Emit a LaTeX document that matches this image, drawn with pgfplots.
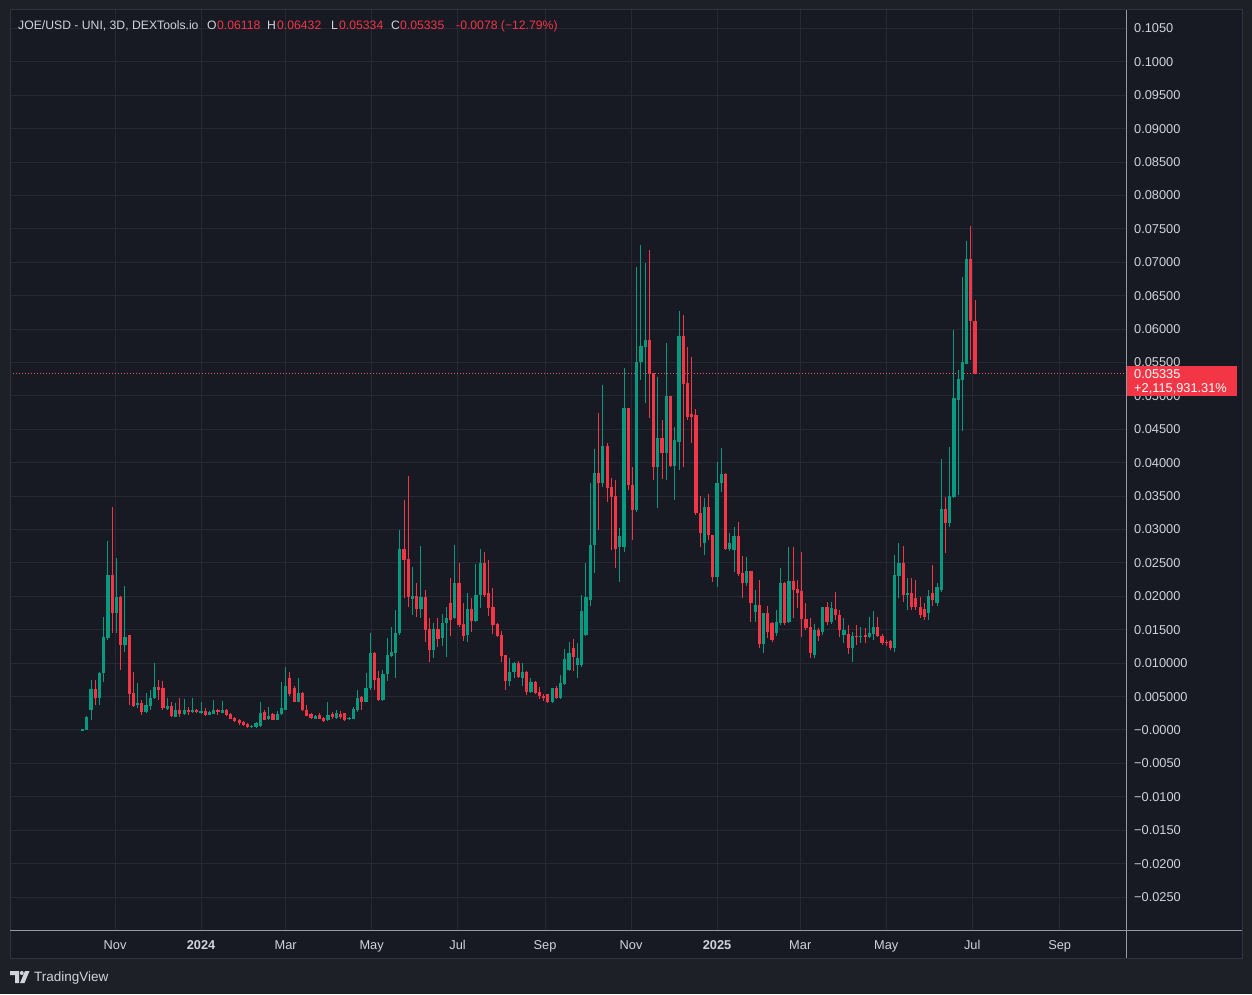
\documentclass[border=0pt]{standalone}
\usepackage{pgfplots}
\pgfplotsset{compat=1.18}
\usepackage{pgfplotstable}
\usepackage{fontspec}
\setmainfont{Liberation Sans}
\definecolor{outerbg}{RGB}{30,32,40}
\definecolor{panebg}{RGB}{23,25,35}
\definecolor{gridc}{RGB}{38,41,53}
\definecolor{framec}{RGB}{48,51,62}
\definecolor{sepc}{RGB}{150,153,161}
\definecolor{txt}{RGB}{209,212,220}
\definecolor{upc}{RGB}{8,153,129}
\definecolor{downc}{RGB}{242,54,69}

\pgfplotstableread{
k o h l c
0 0.0000 0.0002 0.0000 0.0001
1 0.0001 0.0021 0.0000 0.0019
2 0.0030 0.0075 0.0015 0.0061
3 0.0061 0.0075 0.0037 0.0049
4 0.0049 0.0087 0.0037 0.0085
5 0.0085 0.0169 0.0072 0.0139
6 0.0138 0.0283 0.0135 0.0231
7 0.0231 0.0334 0.0145 0.0175
8 0.0175 0.0257 0.0145 0.0199
9 0.0199 0.0200 0.0090 0.0127
10 0.0127 0.0216 0.0117 0.0139
11 0.0142 0.0142 0.0037 0.0055
12 0.0055 0.0087 0.0034 0.0037
13 0.0039 0.0070 0.0033 0.0040
14 0.0040 0.0045 0.0022 0.0027
15 0.0027 0.0055 0.0025 0.0037
16 0.0036 0.0060 0.0030 0.0048
17 0.0048 0.0100 0.0046 0.0064
18 0.0064 0.0075 0.0045 0.0061
19 0.0063 0.0073 0.0030 0.0034
20 0.0032 0.0048 0.0030 0.0035
21 0.0036 0.0042 0.0019 0.0021
22 0.0020 0.0040 0.0019 0.0030
23 0.0030 0.0048 0.0019 0.0024
24 0.0024 0.0046 0.0022 0.0029
25 0.0030 0.0034 0.0023 0.0028
26 0.0028 0.0048 0.0026 0.0029
27 0.0030 0.0031 0.0025 0.0027
28 0.0026 0.0042 0.0024 0.0028
29 0.0028 0.0033 0.0021 0.0023
30 0.0023 0.0028 0.0022 0.0027
31 0.0025 0.0045 0.0025 0.0029
32 0.0030 0.0032 0.0023 0.0027
33 0.0026 0.0043 0.0025 0.0029
34 0.0030 0.0031 0.0021 0.0023
35 0.0023 0.0025 0.0016 0.0017
36 0.0018 0.0020 0.0012 0.0014
37 0.0015 0.0016 0.0007 0.0011
38 0.0012 0.0013 0.0006 0.0008
39 0.0009 0.0010 0.0003 0.0005
40 0.0005 0.0008 0.0003 0.0006
41 0.0005 0.0012 0.0003 0.0010
42 0.0007 0.0042 0.0005 0.0025
43 0.0026 0.0030 0.0015 0.0016
44 0.0017 0.0034 0.0015 0.0020
45 0.0024 0.0026 0.0015 0.0016
46 0.0016 0.0028 0.0015 0.0024
47 0.0024 0.0072 0.0023 0.0033
48 0.0030 0.0094 0.0030 0.0066
49 0.0078 0.0087 0.0051 0.0055
50 0.0063 0.0066 0.0042 0.0043
51 0.0043 0.0078 0.0042 0.0055
52 0.0055 0.0057 0.0029 0.0031
53 0.0030 0.0037 0.0021 0.0022
54 0.0023 0.0025 0.0016 0.0018
55 0.0017 0.0023 0.0016 0.0021
56 0.0022 0.0025 0.0016 0.0017
57 0.0018 0.0020 0.0012 0.0014
58 0.0015 0.0042 0.0013 0.0022
59 0.0023 0.0027 0.0017 0.0020
60 0.0019 0.0030 0.0017 0.0025
61 0.0024 0.0029 0.0016 0.0020
62 0.0025 0.0026 0.0014 0.0016
63 0.0017 0.0020 0.0015 0.0018
64 0.0017 0.0034 0.0016 0.0031
65 0.0030 0.0060 0.0027 0.0048
66 0.0049 0.0051 0.0030 0.0043
67 0.0043 0.0085 0.0042 0.0063
68 0.0063 0.0145 0.0060 0.0115
69 0.0115 0.0117 0.0060 0.0075
70 0.0078 0.0088 0.0044 0.0045
71 0.0046 0.0090 0.0043 0.0084
72 0.0084 0.0138 0.0073 0.0112
73 0.0111 0.0154 0.0109 0.0117
74 0.0115 0.0180 0.0078 0.0145
75 0.0145 0.0300 0.0142 0.0270
76 0.0270 0.0344 0.0198 0.0255
77 0.0256 0.0380 0.0184 0.0199
78 0.0197 0.0244 0.0172 0.0200
79 0.0200 0.0220 0.0169 0.0181
80 0.0181 0.0275 0.0168 0.0199
81 0.0199 0.0210 0.0132 0.0150
82 0.0151 0.0168 0.0102 0.0120
83 0.0120 0.0160 0.0108 0.0151
84 0.0151 0.0168 0.0124 0.0136
85 0.0138 0.0173 0.0126 0.0160
86 0.0160 0.0184 0.0110 0.0168
87 0.0190 0.0228 0.0140 0.0165
88 0.0168 0.0277 0.0166 0.0219
89 0.0219 0.0250 0.0154 0.0157
90 0.0158 0.0190 0.0133 0.0141
91 0.0142 0.0205 0.0132 0.0181
92 0.0181 0.0198 0.0147 0.0163
93 0.0163 0.0249 0.0162 0.0202
94 0.0202 0.0271 0.0183 0.0250
95 0.0250 0.0267 0.0199 0.0202
96 0.0205 0.0255 0.0171 0.0183
97 0.0184 0.0213 0.0144 0.0157
98 0.0158 0.0160 0.0139 0.0141
99 0.0142 0.0148 0.0102 0.0111
100 0.0112 0.0112 0.0060 0.0073
101 0.0073 0.0108 0.0066 0.0087
102 0.0087 0.0102 0.0078 0.0100
103 0.0100 0.0103 0.0078 0.0080
104 0.0078 0.0100 0.0066 0.0087
105 0.0087 0.0088 0.0052 0.0058
106 0.0057 0.0078 0.0055 0.0072
107 0.0072 0.0074 0.0054 0.0056
108 0.0057 0.0064 0.0046 0.0052
109 0.0051 0.0054 0.0043 0.0048
110 0.0053 0.0054 0.0040 0.0042
111 0.0042 0.0063 0.0040 0.0063
112 0.0063 0.0066 0.0046 0.0048
113 0.0048 0.0082 0.0047 0.0070
114 0.0069 0.0121 0.0067 0.0106
115 0.0090 0.0132 0.0088 0.0115
116 0.0123 0.0136 0.0088 0.0109
117 0.0097 0.0130 0.0078 0.0108
118 0.0097 0.0202 0.0094 0.0177
119 0.0142 0.0250 0.0140 0.0198
120 0.0195 0.0370 0.0185 0.0277
121 0.0277 0.0421 0.0235 0.0385
122 0.0385 0.0475 0.0300 0.0370
123 0.0370 0.0516 0.0364 0.0424
124 0.0424 0.0430 0.0341 0.0362
125 0.0364 0.0377 0.0270 0.0349
126 0.0350 0.0374 0.0243 0.0272
127 0.0274 0.0302 0.0222 0.0290
128 0.0274 0.0542 0.0266 0.0481
129 0.0481 0.0481 0.0359 0.0367
130 0.0367 0.0394 0.0284 0.0329
131 0.0329 0.0693 0.0326 0.0551
132 0.0551 0.0726 0.0524 0.0575
133 0.0573 0.0699 0.0490 0.0584
134 0.0584 0.0719 0.0467 0.0534
135 0.0534 0.0534 0.0374 0.0394
136 0.0394 0.0528 0.0332 0.0437
137 0.0437 0.0464 0.0376 0.0415
138 0.0415 0.0579 0.0374 0.0499
139 0.0499 0.0499 0.0393 0.0395
140 0.0395 0.0454 0.0344 0.0433
141 0.0431 0.0627 0.0389 0.0590
142 0.0590 0.0621 0.0394 0.0519
143 0.0519 0.0573 0.0464 0.0469
144 0.0473 0.0558 0.0430 0.0469
145 0.0471 0.0481 0.0322 0.0325
146 0.0325 0.0350 0.0274 0.0295
147 0.0280 0.0347 0.0262 0.0334
148 0.0334 0.0353 0.0284 0.0292
149 0.0292 0.0292 0.0222 0.0229
150 0.0229 0.0401 0.0214 0.0370
151 0.0370 0.0422 0.0356 0.0383
152 0.0383 0.0385 0.0270 0.0272
153 0.0271 0.0295 0.0268 0.0280
154 0.0270 0.0304 0.0237 0.0290
155 0.0290 0.0311 0.0230 0.0234
156 0.0234 0.0260 0.0197 0.0220
157 0.0220 0.0259 0.0215 0.0237
158 0.0237 0.0237 0.0162 0.0191
159 0.0177 0.0210 0.0161 0.0186
160 0.0186 0.0224 0.0123 0.0129
161 0.0129 0.0175 0.0115 0.0175
162 0.0175 0.0186 0.0138 0.0147
163 0.0160 0.0162 0.0132 0.0135
164 0.0145 0.0180 0.0140 0.0162
165 0.0160 0.0243 0.0157 0.0219
166 0.0219 0.0222 0.0157 0.0160
167 0.0162 0.0274 0.0160 0.0222
168 0.0222 0.0274 0.0168 0.0210
169 0.0211 0.0225 0.0183 0.0205
170 0.0207 0.0266 0.0139 0.0166
171 0.0166 0.0190 0.0150 0.0153
172 0.0154 0.0168 0.0108 0.0115
173 0.0112 0.0158 0.0108 0.0150
174 0.0150 0.0152 0.0133 0.0141
175 0.0147 0.0184 0.0142 0.0183
176 0.0183 0.0192 0.0157 0.0162
177 0.0162 0.0192 0.0159 0.0182
178 0.0181 0.0206 0.0165 0.0172
179 0.0172 0.0180 0.0139 0.0150
180 0.0142 0.0168 0.0130 0.0150
181 0.0144 0.0157 0.0114 0.0123
182 0.0123 0.0147 0.0102 0.0141
183 0.0141 0.0157 0.0127 0.0139
184 0.0139 0.0154 0.0130 0.0141
185 0.0142 0.0153 0.0130 0.0139
186 0.0139 0.0169 0.0138 0.0145
187 0.0144 0.0178 0.0135 0.0154
188 0.0154 0.0169 0.0139 0.0141
189 0.0141 0.0143 0.0127 0.0130
190 0.0132 0.0134 0.0126 0.0130
191 0.0133 0.0135 0.0120 0.0123
192 0.0123 0.0262 0.0117 0.0231
193 0.0231 0.0280 0.0197 0.0249
194 0.0249 0.0275 0.0192 0.0202
195 0.0202 0.0227 0.0180 0.0205
196 0.0205 0.0228 0.0180 0.0184
197 0.0197 0.0225 0.0180 0.0184
198 0.0184 0.0199 0.0168 0.0172
199 0.0180 0.0190 0.0165 0.0170
200 0.0175 0.0210 0.0165 0.0200
201 0.0205 0.0247 0.0185 0.0195
202 0.0190 0.0220 0.0185 0.0213
203 0.0210 0.0406 0.0207 0.0330
204 0.0330 0.0349 0.0265 0.0310
205 0.0310 0.0424 0.0304 0.0350
206 0.0349 0.0599 0.0347 0.0496
207 0.0494 0.0539 0.0352 0.0525
208 0.0525 0.0678 0.0448 0.0551
209 0.0549 0.0732 0.0549 0.0705
210 0.0705 0.0754 0.0554 0.0612
211 0.06118 0.06432 0.05334 0.05335
}\candles

\begin{document}
\begin{tikzpicture}
\fill[outerbg] (0pt,0pt) rectangle (1252pt,994pt);
\fill[panebg] (10pt,36pt) rectangle (1242pt,984pt);
\begin{axis}[
  at={(10pt,64pt)}, anchor=south west,
  scale only axis, width=1116pt, height=920pt,
  xmin=-135.5, xmax=656, ymin=-0.02994, ymax=0.10778,
  axis line style={draw=none},
  major tick length=0pt,
  grid=major, major grid style={draw=gridc, line width=1pt},
  xtick={-61,0,60,121,182,244,305,366,425,486,547,609},
  xticklabels={Nov,\textbf{2024},Mar,May,Jul,Sep,Nov,\textbf{2025},Mar,May,Jul,Sep},
  ytick={-0.025,-0.02,-0.015,-0.01,-0.005,0,0.005,0.01,0.015,0.02,0.025,0.03,0.035,0.04,0.045,0.05,0.055,0.06,0.065,0.07,0.075,0.08,0.085,0.09,0.095,0.1,0.105},
  yticklabels={−0.0250,−0.0200,−0.0150,−0.0100,−0.0050,−0.0000,0.005000,0.010000,0.01500,0.02000,0.02500,0.03000,0.03500,0.04000,0.04500,0.05000,0.05500,0.06000,0.06500,0.07000,0.07500,0.08000,0.08500,0.09000,0.09500,0.1000,0.1050},
  scaled y ticks=false,
  yticklabel pos=right,
  tick label style={font=\fontsize{12.8}{15}\selectfont, text=txt},
  yticklabel style={anchor=west, inner sep=0pt, xshift=8pt},
  xticklabel style={anchor=base, inner sep=0pt, yshift=-19.5pt},
  clip=true,
  candle/.style={draw=none, fill=none, mark=none, forget plot,
    error bars/y dir=both, error bars/y explicit, error bars/error mark=none},
]
\addplot[downc!85!white, line width=1pt, dash pattern=on 1pt off 2pt, forget plot] coordinates {(-135.5,0.05335) (656,0.05335)};
% wicks
\addplot[candle,
  restrict expr to domain={\thisrow{c}-\thisrow{o}}{0:1},
  error bars/error bar style={line width=1pt, draw=upc}]
  table[x expr={-84+3*\thisrow{k}}, y expr={(\thisrow{h}+\thisrow{l})/2}, y error expr={(\thisrow{h}-\thisrow{l})/2}] {\candles};
\addplot[candle,
  restrict expr to domain={\thisrow{o}-\thisrow{c}}{0.00000001:1},
  error bars/error bar style={line width=1pt, draw=downc}]
  table[x expr={-84+3*\thisrow{k}}, y expr={(\thisrow{h}+\thisrow{l})/2}, y error expr={(\thisrow{h}-\thisrow{l})/2}] {\candles};
% bodies
\addplot[candle,
  restrict expr to domain={\thisrow{c}-\thisrow{o}}{0:1},
  error bars/error bar style={line width=3.2pt, draw=upc}]
  table[x expr={-84+3*\thisrow{k}}, y expr={(\thisrow{o}+\thisrow{c})/2}, y error expr={abs(\thisrow{c}-\thisrow{o})/2+0.00004}] {\candles};
\addplot[candle,
  restrict expr to domain={\thisrow{o}-\thisrow{c}}{0.00000001:1},
  error bars/error bar style={line width=3.2pt, draw=downc}]
  table[x expr={-84+3*\thisrow{k}}, y expr={(\thisrow{o}+\thisrow{c})/2}, y error expr={abs(\thisrow{c}-\thisrow{o})/2+0.00004}] {\candles};
\end{axis}
% separators and frame
\draw[framec, line width=1pt] (10pt,36pt) rectangle (1242pt,984pt);
\draw[sepc, line width=1pt] (1126pt,36pt) -- (1126pt,984pt);
\draw[sepc, line width=1pt] (10pt,64pt) -- (1242pt,64pt);
% last price label
\fill[downc] (1127pt,628pt) rectangle (1237pt,598pt);
\node[anchor=base west, inner sep=0pt, text=white, font=\fontsize{12.8}{15}\selectfont] at (1134pt,615pt) {0.05335};
\node[anchor=base west, inner sep=0pt, text=white, font=\fontsize{12.8}{15}\selectfont] at (1134pt,601pt) {+2,115,931.31\%};
% header
\begin{scope}[every node/.style={anchor=base west, inner sep=0pt, font=\fontsize{12.2}{14}\selectfont}]
\node[text=txt] at (18pt,964.5pt) {JOE/USD - UNI, 3D, DEXTools.io};
\node[text=txt] at (207pt,964.5pt) {O};
\node[text=downc] at (217pt,964.5pt) {0.06118};
\node[text=txt] at (267pt,964.5pt) {H};
\node[text=downc] at (277pt,964.5pt) {0.06432};
\node[text=txt] at (331pt,964.5pt) {L};
\node[text=downc] at (339pt,964.5pt) {0.05334};
\node[text=txt] at (391pt,964.5pt) {C};
\node[text=downc] at (400pt,964.5pt) {0.05335};
\node[text=downc] at (456pt,964.5pt) {-0.0078 (−12.79\%)};
\end{scope}
% TradingView logo
\fill[txt] (10pt,23pt) -- (19pt,23pt) -- (19pt,11pt) -- (15pt,11pt) -- (15pt,19pt) -- (10pt,19pt) -- cycle;
\fill[txt] (21.8pt,21pt) circle (2pt);
\fill[txt] (25pt,23pt) -- (29.5pt,23pt) -- (24.5pt,11pt) -- (20pt,11pt) -- cycle;
\node[anchor=base west, inner sep=0pt, text=txt, font=\fontsize{13.5}{15}\selectfont] at (34pt,12.5pt) {TradingView};
\end{tikzpicture}
\end{document}
